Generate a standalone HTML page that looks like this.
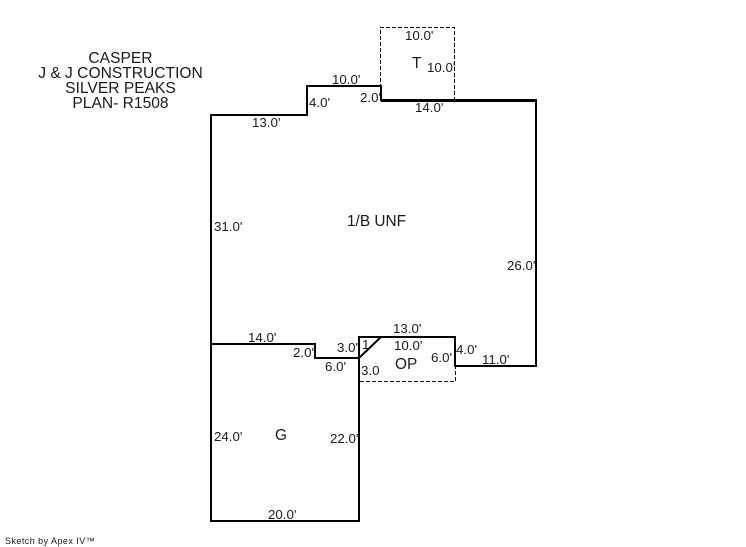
<!DOCTYPE html>
<html>
<head>
<meta charset="utf-8">
<style>
html,body{margin:0;padding:0;background:#fff;width:746px;height:547px;overflow:hidden}
svg{display:block}
text{font-family:"Liberation Sans",sans-serif;font-size:13.3px;fill:#1a1a1a;stroke:none}
.t{font-size:15.6px;text-anchor:middle}
.l{font-size:15.4px}
.s{font-size:9px;letter-spacing:.45px}
</style>
</head>
<body>
<svg width="746" height="547" viewBox="0 0 746 547" xmlns="http://www.w3.org/2000/svg">
<g fill="none" stroke="#000" stroke-width="2" shape-rendering="crispEdges">
<path d="M211 115V521H359V337H455V366H536V100H381V86H307V115H211Z"/>
<path d="M211 344H315V358H359"/>
<path d="M381 100.500H536" stroke-width="3"/>
</g>
<path d="M359 358L381 337" fill="none" stroke="#000" stroke-width="2"/>
<g fill="none" stroke="#000" stroke-width="1" stroke-dasharray="4 2" shape-rendering="crispEdges">
<path d="M380.500 100V27.500H454.500V100"/>
<path d="M360 381.500H455.500V366"/>
</g>
<text class="t" x="120.500" y="63">CASPER</text>
<text class="t" x="120.500" y="78">J &amp; J CONSTRUCTION</text>
<text class="t" x="120.500" y="93">SILVER PEAKS</text>
<text class="t" x="120.500" y="108">PLAN- R1508</text>
<text x="405" y="40">10.0'</text>
<text class="l" x="412" y="68">T</text>
<text x="427" y="72">10.0'</text>
<text x="332" y="84">10.0'</text>
<text x="309" y="107">4.0'</text>
<text x="360" y="102">2.0'</text>
<text x="415" y="112">14.0'</text>
<text x="252" y="127">13.0'</text>
<text x="214" y="231">31.0'</text>
<text class="l" x="347" y="226">1/B UNF</text>
<text x="507" y="270">26.0'</text>
<text x="393" y="333">13.0'</text>
<text x="394" y="350">10.0'</text>
<text x="248" y="342">14.0'</text>
<text x="293" y="357">2.0'</text>
<text x="337" y="352">3.0'</text>
<text x="362" y="349">1</text>
<text x="325" y="371">6.0'</text>
<text x="361" y="375">3.0</text>
<text class="l" x="395" y="369">OP</text>
<text x="431" y="362">6.0'</text>
<text x="456" y="354">4.0'</text>
<text x="482" y="364">11.0'</text>
<text x="214" y="441">24.0'</text>
<text class="l" x="275" y="440">G</text>
<text x="330" y="443">22.0'</text>
<text x="268" y="519">20.0'</text>
<text class="s" x="5" y="544">Sketch by Apex IV™</text>
</svg>
</body>
</html>
